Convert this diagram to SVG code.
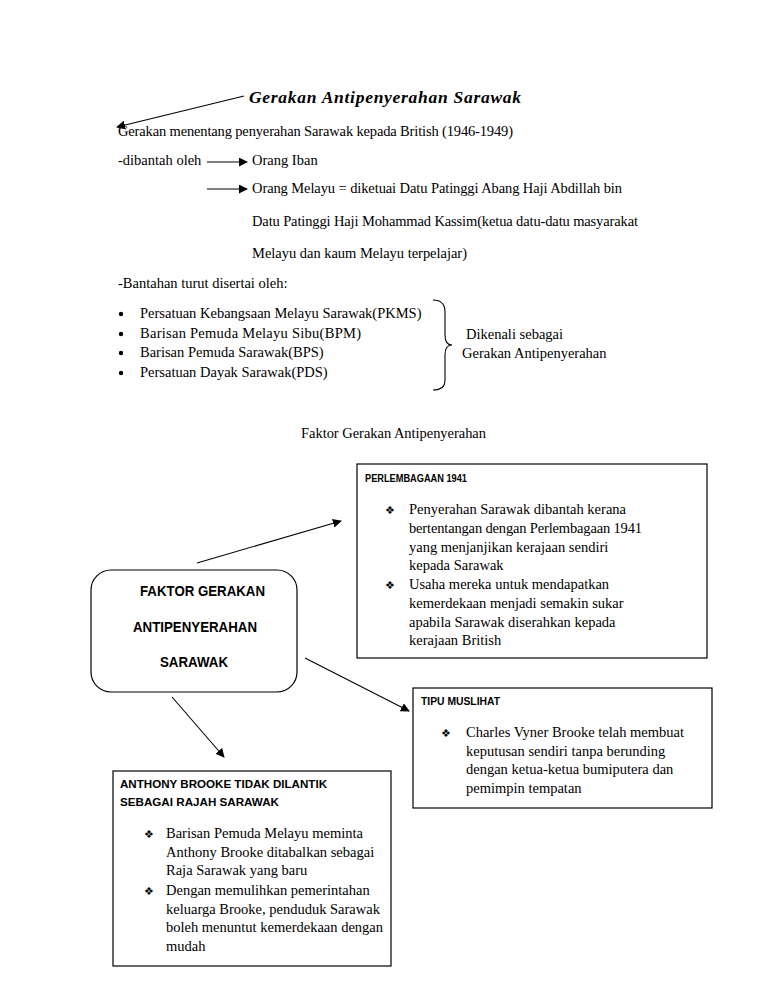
<svg xmlns="http://www.w3.org/2000/svg" width="768" height="994" viewBox="0 0 768 994">
<defs>
<marker id="ah" viewBox="0 0 10 10" refX="9" refY="5" markerWidth="9" markerHeight="9" markerUnits="userSpaceOnUse" orient="auto">
<path d="M0,0 L10,5 L0,10 z" fill="#000"/>
</marker>
</defs>
<style>
.t{font-family:"Liberation Serif","Times New Roman",serif;font-size:14.5px;fill:#000}
.h{font-family:"Liberation Sans",Arial,sans-serif;font-weight:bold;font-size:10.5px;fill:#000}
.c{font-family:"Liberation Sans",Arial,sans-serif;font-weight:bold;font-size:14px;fill:#000}
.b{font-family:"DejaVu Sans",sans-serif;font-size:11px;fill:#000}
.box{fill:#fff;stroke:#000;stroke-width:1.2}
.ln{fill:none;stroke:#000;stroke-width:1.1;marker-end:url(#ah)}
</style>
<rect width="768" height="994" fill="#fff"/>

<g id="intro">
<text x="249" y="103" style="font-family:'Liberation Serif','Times New Roman',serif;font-size:17.5px;font-weight:bold;font-style:italic" textLength="272">Gerakan Antipenyerahan Sarawak</text>
<text class="t" x="118" y="136" textLength="395">Gerakan menentang penyerahan Sarawak kepada British (1946-1949)</text>
<text class="t" x="118" y="165">-dibantah oleh</text>
<text class="t" x="252" y="165">Orang Iban</text>
<text class="t" x="252" y="193" textLength="370">Orang Melayu = diketuai Datu Patinggi Abang Haji Abdillah bin</text>
<text class="t" x="252" y="226" textLength="386">Datu Patinggi Haji Mohammad Kassim(ketua datu-datu masyarakat</text>
<text class="t" x="252" y="258" textLength="215">Melayu dan kaum Melayu terpelajar)</text>
<text class="t" x="118" y="288">-Bantahan turut disertai oleh:</text>
</g>

<g id="list">
<circle cx="121" cy="314" r="2.2"/>
<circle cx="121" cy="334" r="2.2"/>
<circle cx="121" cy="353" r="2.2"/>
<circle cx="121" cy="373" r="2.2"/>
<text class="t" x="140" y="318">Persatuan Kebangsaan Melayu Sarawak(PKMS)</text>
<text class="t" x="140" y="338" textLength="221">Barisan Pemuda Melayu Sibu(BPM)</text>
<text class="t" x="140" y="357">Barisan Pemuda Sarawak(BPS)</text>
<text class="t" x="140" y="377">Persatuan Dayak Sarawak(PDS)</text>
<path d="M433,300 Q445,300 445,312 L445,335 Q445,345 452,345 Q445,345 445,355 L445,380 Q445,390 433,390" fill="none" stroke="#000" stroke-width="1.1"/>
<text class="t" x="466" y="339">Dikenali sebagai</text>
<text class="t" x="462" y="358">Gerakan Antipenyerahan</text>
<text class="t" x="301" y="438" textLength="185">Faktor Gerakan Antipenyerahan</text>
</g>

<g id="center">
<rect class="box" x="91" y="570" width="206" height="122" rx="20" ry="20"/>
<text class="c" x="140" y="596" textLength="125" lengthAdjust="spacingAndGlyphs">FAKTOR GERAKAN</text>
<text class="c" x="133" y="632" textLength="124" lengthAdjust="spacingAndGlyphs">ANTIPENYERAHAN</text>
<text class="c" x="160" y="667" textLength="68" lengthAdjust="spacingAndGlyphs">SARAWAK</text>
</g>

<g id="perlembagaan">
<rect class="box" x="357" y="464" width="350" height="194"/>
<text class="h" x="365" y="482" textLength="102" lengthAdjust="spacingAndGlyphs">PERLEMBAGAAN 1941</text>
<text class="b" x="385" y="514">❖</text>
<text class="b" x="385" y="589">❖</text>
<text class="t" x="409" y="514">Penyerahan Sarawak dibantah kerana</text>
<text class="t" x="409" y="533" textLength="233">bertentangan dengan Perlembagaan 1941</text>
<text class="t" x="409" y="552">yang menjanjikan kerajaan sendiri</text>
<text class="t" x="409" y="570">kepada Sarawak</text>
<text class="t" x="409" y="589">Usaha mereka untuk mendapatkan</text>
<text class="t" x="409" y="608">kemerdekaan menjadi semakin sukar</text>
<text class="t" x="409" y="627">apabila Sarawak diserahkan kepada</text>
<text class="t" x="409" y="645">kerajaan British</text>
</g>

<g id="tipu">
<rect class="box" x="413" y="688" width="299" height="120"/>
<text class="h" x="421" y="705" textLength="79" lengthAdjust="spacingAndGlyphs">TIPU MUSLIHAT</text>
<text class="b" x="441" y="737">❖</text>
<text class="t" x="466" y="737">Charles Vyner Brooke telah membuat</text>
<text class="t" x="466" y="756">keputusan sendiri tanpa berunding</text>
<text class="t" x="466" y="774">dengan ketua-ketua bumiputera dan</text>
<text class="t" x="466" y="793">pemimpin tempatan</text>
</g>

<g id="anthony">
<rect class="box" x="113" y="771" width="278" height="195"/>
<text class="h" x="120" y="788" textLength="207" lengthAdjust="spacingAndGlyphs">ANTHONY BROOKE TIDAK DILANTIK</text>
<text class="h" x="120" y="806" textLength="159" lengthAdjust="spacingAndGlyphs">SEBAGAI RAJAH SARAWAK</text>
<text class="b" x="144" y="838">❖</text>
<text class="b" x="144" y="895">❖</text>
<text class="t" x="166" y="838">Barisan Pemuda Melayu meminta</text>
<text class="t" x="166" y="857">Anthony Brooke ditabalkan sebagai</text>
<text class="t" x="166" y="875">Raja Sarawak yang baru</text>
<text class="t" x="166" y="895">Dengan memulihkan pemerintahan</text>
<text class="t" x="166" y="914">keluarga Brooke, penduduk Sarawak</text>
<text class="t" x="166" y="932">boleh menuntut kemerdekaan dengan</text>
<text class="t" x="166" y="951">mudah</text>
</g>

<g id="connectors">
<line class="ln" x1="244" y1="96" x2="117" y2="127"/>
<line class="ln" x1="207" y1="162" x2="247" y2="162"/>
<line class="ln" x1="207" y1="189" x2="247" y2="189"/>
<line class="ln" x1="197" y1="563" x2="341" y2="521"/>
<line class="ln" x1="305" y1="658" x2="409" y2="711"/>
<line class="ln" x1="172" y1="697" x2="224" y2="757"/>
</g>
</svg>
